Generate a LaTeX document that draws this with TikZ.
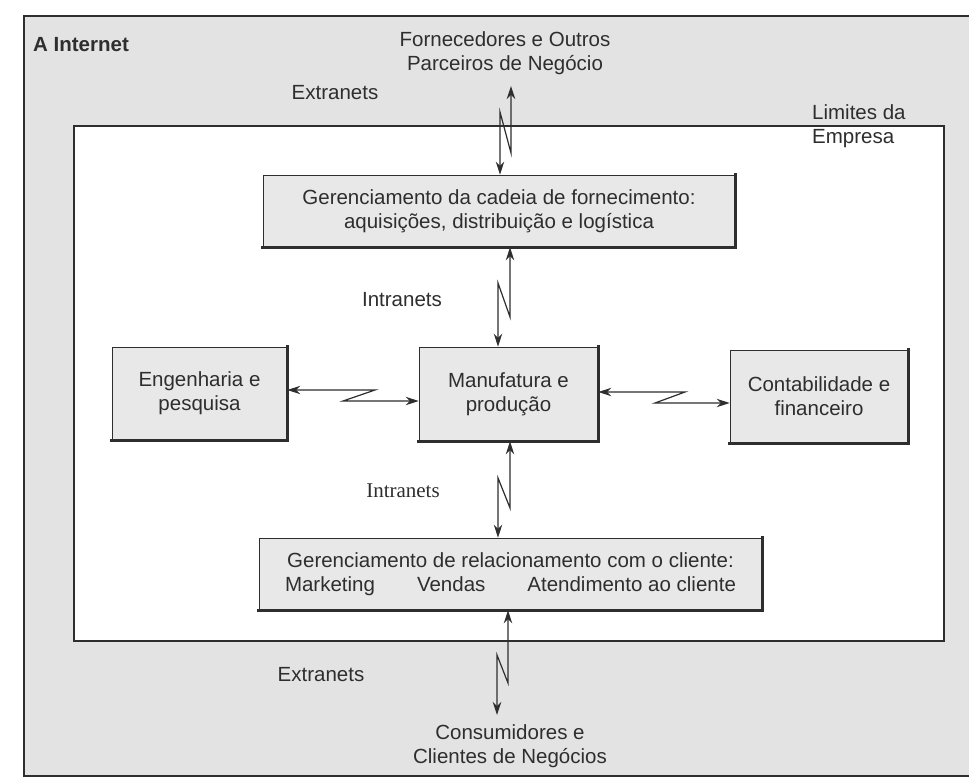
\documentclass[tikz,border=0pt]{standalone}
\usepackage{fontspec}
\setmainfont{Liberation Sans}
\newfontfamily\serifi{Liberation Serif}
\usetikzlibrary{arrows.meta,calc}
\definecolor{ink}{HTML}{2E2E2E}
\definecolor{outerbg}{HTML}{E3E3E3}
\definecolor{boxbg}{HTML}{E8E8E8}
\tikzset{
  lbl/.style={text=ink,font=\fontsize{20.5}{24}\selectfont,inner sep=0pt},
  procbox/.style={draw=ink,line width=0.8pt,fill=boxbg,text=ink,align=center,
    font=\fontsize{20.5}{24}\selectfont,inner sep=0pt},
  link/.style={draw=ink,line width=1.2pt,
    {Stealth[length=13pt,width=8.5pt]}-{Stealth[length=13pt,width=8.5pt]}},
  shade/.style={draw=ink,line width=2.4pt,line cap=rect}
}
\begin{document}
\begin{tikzpicture}[x=1pt,y=-1pt]
\useasboundingbox (0,0) rectangle (969,781);
\clip (0,0) rectangle (969,781);
% outer area: the Internet
\fill[white] (0,0) rectangle (969,781);
\fill[outerbg] (24,16) rectangle (980,776);
\draw[ink,line width=1.2pt] (980,16) -- (24,16) -- (24,776) -- (980,776);
% company boundary
\draw[ink,line width=1.2pt,fill=white] (74,126) rectangle (944,641);

\node[lbl,font=\bfseries\fontsize{20.5}{24}\selectfont,anchor=west] (inet) at (33,45) {A Internet};
\node[lbl,align=center] (supp) at (505,53) {Fornecedores e Outros\\Parceiros de Negócio};
\node[lbl] (ext1) at (335,93) {Extranets};
\node[lbl,align=left,anchor=north west] (lim) at (812,104) {Limites da\\Empresa};

% process boxes
\node[procbox,minimum width=472,minimum height=72] (scm) at (499,211)
  {Gerenciamento da cadeia de fornecimento:\\aquisições, distribuição e logística};
\node[procbox,minimum width=179,minimum height=94] (mfg) at (508.5,394)
  {Manufatura e\\produção};
\node[procbox,minimum width=175,minimum height=93] (eng) at (199.5,393.5)
  {Engenharia e\\pesquisa};
\node[procbox,minimum width=178,minimum height=93] (acc) at (819,396.5)
  {Contabilidade e\\financeiro};
\node[procbox,minimum width=503,minimum height=72] (crm) at (510.5,574)
  {Gerenciamento de relacionamento com o cliente:\\Marketing\hspace{42pt}Vendas\hspace{42pt}Atendimento ao cliente};

\foreach \b in {scm,mfg,eng,acc,crm}{
  \draw[shade] (\b.north east) -- (\b.south east) -- (\b.south west);
}

\node[lbl] (int1) at (402,300) {Intranets};
\node[lbl,font=\serifi\fontsize{21}{24}\selectfont] (int2) at (403,491) {Intranets};
\node[lbl] (ext2) at (321,675) {Extranets};
\node[lbl,align=center] (cust) at (510,746) {Consumidores e\\Clientes de Negócios};

% zigzag connector points
\coordinate (t0) at (511,86);
\coordinate (t1) at (511,153);
\coordinate (t2) at (500,112);
\coordinate (a1) at (510,317);
\coordinate (a2) at (498,283);
\coordinate (b1) at (510,508);
\coordinate (b2) at (498,478);
\coordinate (c1) at (508,683);
\coordinate (c2) at (497,655);
\coordinate (c3) at (497,715);
\coordinate (d1) at (375,390);
\coordinate (d2) at (343,401);
\coordinate (e1) at (685,392);
\coordinate (e2) at (655,403);

\draw[link] (t0) -- (t1) -- (t2) -- (scm.north -| t2);
\draw[link] (scm.south -| a1) -- (a1) -- (a2) -- (mfg.north -| a2);
\draw[link] (mfg.south -| b1) -- (b1) -- (b2) -- (crm.north -| b2);
\draw[link] (crm.south -| c1) -- (c1) -- (c2) -- (c3);
\draw[link] (eng.east |- d1) -- (d1) -- (d2) -- (mfg.west |- d2);
\draw[link] (mfg.east |- e1) -- (e1) -- (e2) -- (acc.west |- e2);
\end{tikzpicture}
\end{document}
